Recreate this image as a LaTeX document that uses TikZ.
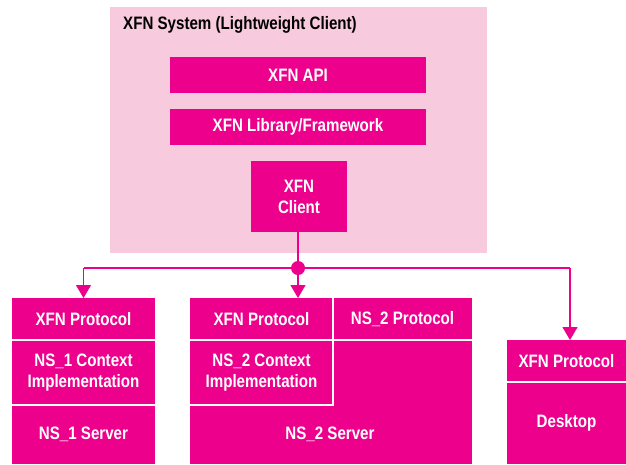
\documentclass[tikz,border=0pt]{standalone}
\usepackage{fontspec}
\setmainfont{Liberation Sans}[FakeStretch=0.84,BoldFont={Liberation Sans Bold},BoldFeatures={FakeStretch=0.84}]
\usetikzlibrary{arrows.meta}
\definecolor{mag}{RGB}{236,0,140}
\definecolor{bgpink}{RGB}{248,202,221}
\begin{document}
\begin{tikzpicture}[x=1pt,y=-1pt,
  txt/.style={font=\fontsize{18}{21}\selectfont\bfseries},
  cell/.style={fill=mag,text=white,inner sep=0pt,outer sep=0pt,anchor=north west,align=center,txt},
  sep/.style={draw=white,line width=1.6pt},
  conn/.style={draw=mag,line width=1.1pt},
  arr/.style={conn,-{Triangle[width=15pt,length=13pt]}}]
\useasboundingbox (0,0) rectangle (626,464);
% lightweight client system
\node[fill=bgpink,inner sep=0pt,outer sep=0pt,anchor=north west,minimum width=377pt,minimum height=246pt] (sys) at (110,7) {};
\node[anchor=west,inner sep=0pt,txt] (title) at (123,25) {XFN System (Lightweight Client)};
\node[cell,minimum width=256pt,minimum height=36pt] (api) at (170,57) {XFN API};
\node[cell,minimum width=256pt,minimum height=36pt] (lib) at (170,109) {XFN Library/Framework};
\node[cell,minimum width=96pt,minimum height=71pt] (client) at (251,161) {XFN\\Client};
% left stack
\node[cell,minimum width=143pt,minimum height=42pt] (lp) at (12,298) {XFN Protocol};
\node[cell,minimum width=143pt,minimum height=65pt] (lc) at (12,340) {NS\_1 Context\\Implementation};
\node[cell,minimum width=143pt,minimum height=59pt] (ls) at (12,405) {};
\node[text=white,txt] (lst) at (83.5,434) {NS\_1 Server};
\draw[sep] (lp.south west) -- (lp.south east);
\draw[sep] (lc.south west) -- (lc.south east);
% middle stack
\node[cell,minimum width=282pt,minimum height=166pt] (ms) at (190,298) {};
\node[text=white,txt] (mst) at (330,434) {NS\_2 Server};
\node[cell,minimum width=143pt,minimum height=42pt] (mp) at (190,298) {XFN Protocol};
\node[cell,minimum width=139pt,minimum height=42pt] (mq) at (333,298) {NS\_2 Protocol};
\node[cell,minimum width=143pt,minimum height=65pt] (mc) at (190,340) {NS\_2 Context\\Implementation};
\draw[sep] (mp.north east) -- (mc.south east) -- (mc.south west);
\draw[sep] (mp.south west) -- (mq.south east);
% right stack
\node[cell,minimum width=119pt,minimum height=42pt] (rp) at (507,340) {XFN Protocol};
\node[cell,minimum width=119pt,minimum height=82pt] (rd) at (507,382) {Desktop};
\draw[sep] (rp.south west) -- (rp.south east);
% connectors
\node[circle,fill=mag,inner sep=0pt,minimum size=14pt] (dot) at (298,268) {};
\coordinate (jl) at (83.5,268);
\coordinate (jr) at (570,268);
\draw[conn] (client.south -| dot) -- (dot);
\draw[conn] (jl) -- (jr);
\draw[arr] (jl) -- (jl |- lp.north);
\draw[arr] (dot) -- (dot |- mp.north);
\draw[arr] (jr) -- (jr |- rp.north);
\end{tikzpicture}
\end{document}
